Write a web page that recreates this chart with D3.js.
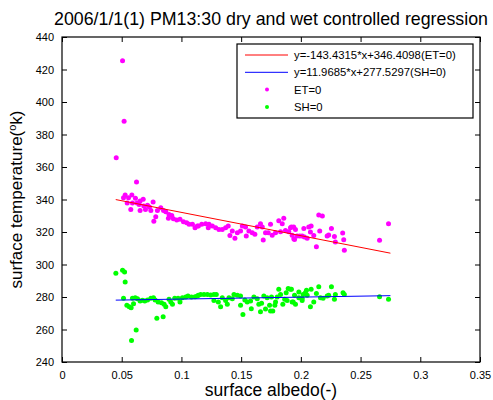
<!DOCTYPE html>
<html>
<head>
<meta charset="utf-8">
<script src="https://cdn.jsdelivr.net/npm/d3@7"></script>
<style>
  body { margin: 0; background: #fff; }
  svg { font-family: "Liberation Sans", Arial, sans-serif; }
</style>
</head>
<body>
<svg id="chart" width="493" height="400"></svg>
<script>
// chart text
var title = '2006/1/1(1) PM13:30 dry and wet controlled regression';
var xTicks = [0, 0.05, 0.1, 0.15, 0.2, 0.25, 0.3, 0.35];
var yTicks = [240, 260, 280, 300, 320, 340, 360, 380, 400, 420, 440];

// regression fits (slope, intercept) and the x span they are drawn over
var etFit = [-143.4315, 346.4098];
var shFit = [11.9685, 277.5297];
var fitSpan = [0.045, 0.275];

// ET=0 points (albedo, temperature)
var etPoints = [
  [0.0454, 365.7], [0.0507, 425.4], [0.0520, 388.1], [0.0624, 350.8],
  [0.0529, 342.8], [0.0515, 341.1], [0.0557, 341.1], [0.0585, 342.8],
  [0.0615, 340.7], [0.0546, 337.8], [0.0590, 337.8], [0.0576, 333.9],
  [0.0629, 337.8], [0.0654, 339.1], [0.0680, 340.1], [0.0646, 337.0],
  [0.0685, 336.0], [0.0716, 336.4], [0.0732, 335.4], [0.0763, 338.5],
  [0.0654, 333.3], [0.0699, 333.9], [0.0744, 333.3], [0.0785, 329.4],
  [0.0769, 326.6], [0.0799, 333.3], [0.0827, 335.0], [0.0850, 333.3],
  [0.0869, 332.5], [0.0896, 330.8], [0.0919, 330.2], [0.0891, 328.4],
  [0.0933, 328.2], [0.0961, 327.4], [0.0988, 327.8], [0.1017, 326.3],
  [0.1044, 325.7], [0.1064, 324.7], [0.1092, 324.7], [0.1114, 322.6],
  [0.1142, 323.7], [0.1133, 323.7], [0.1170, 324.7], [0.1203, 325.1],
  [0.1231, 324.7], [0.1225, 322.6], [0.1259, 323.7], [0.1287, 322.6],
  [0.1314, 321.6], [0.1342, 321.6], [0.1370, 322.6], [0.1392, 323.7],
  [0.1406, 317.9], [0.1426, 320.6], [0.1448, 316.1], [0.1468, 319.6],
  [0.1495, 320.6], [0.1510, 323.7], [0.1537, 323.1], [0.1543, 317.5],
  [0.1565, 320.6], [0.1593, 319.6], [0.1615, 318.6], [0.1635, 323.1],
  [0.1662, 325.1], [0.1677, 323.1], [0.1685, 315.1], [0.1704, 319.6],
  [0.1727, 319.6], [0.1746, 324.7], [0.1760, 318.0], [0.1788, 319.6],
  [0.1815, 327.0], [0.1844, 325.1], [0.1857, 328.4], [0.1830, 320.2],
  [0.1871, 321.0], [0.1899, 320.2], [0.1921, 323.1], [0.1941, 315.8],
  [0.1913, 322.6], [0.1940, 323.1], [0.1955, 321.6], [0.1927, 318.0],
  [0.1947, 315.4], [0.1969, 317.5], [0.1991, 317.5], [0.2011, 317.5],
  [0.2030, 316.9], [0.2053, 316.1], [0.2025, 322.2], [0.2066, 323.1],
  [0.2086, 323.7], [0.2080, 320.0], [0.2108, 317.9], [0.2150, 330.5],
  [0.2180, 329.9], [0.2158, 320.6], [0.2130, 311.0], [0.2220, 317.5],
  [0.2233, 318.1], [0.2256, 322.2], [0.2281, 317.3], [0.2289, 313.8],
  [0.2350, 319.4], [0.2359, 315.3], [0.2364, 308.7], [0.2659, 314.9],
  [0.2734, 325.1]
];

// SH=0 points (albedo, temperature)
var shPoints = [
  [0.0451, 294.6], [0.0507, 296.4], [0.0524, 295.4], [0.0529, 289.2],
  [0.0515, 279.2], [0.0543, 274.9], [0.0563, 274.0], [0.0579, 273.4],
  [0.0599, 275.9], [0.0590, 279.2], [0.0613, 279.6], [0.0632, 279.0],
  [0.0654, 277.5], [0.0674, 278.0], [0.0693, 277.5], [0.0716, 278.2],
  [0.0744, 279.2], [0.0766, 279.6], [0.0780, 278.2], [0.0805, 276.9],
  [0.0833, 276.5], [0.0855, 275.5], [0.0869, 274.0], [0.0896, 278.6],
  [0.0925, 275.5], [0.0911, 276.9], [0.0794, 266.9], [0.0847, 267.9],
  [0.0621, 259.7], [0.0582, 253.3], [0.0944, 279.2], [0.0972, 279.2],
  [0.0988, 276.9], [0.1008, 279.6], [0.1036, 280.0], [0.1055, 280.6],
  [0.1084, 280.0], [0.1114, 280.2], [0.1142, 281.1], [0.1133, 280.6],
  [0.1161, 281.6], [0.1189, 281.6], [0.1217, 281.6], [0.1245, 281.2],
  [0.1272, 281.6], [0.1292, 281.6], [0.1272, 277.9], [0.1309, 277.0],
  [0.1328, 274.0], [0.1342, 279.6], [0.1370, 277.9], [0.1384, 275.5],
  [0.1398, 279.6], [0.1426, 279.0], [0.1440, 281.6], [0.1468, 281.1],
  [0.1495, 280.6], [0.1495, 274.9], [0.1515, 269.3], [0.1531, 278.2],
  [0.1551, 276.9], [0.1579, 277.5], [0.1585, 272.8], [0.1607, 280.0],
  [0.1635, 279.0], [0.1648, 275.5], [0.1671, 276.1], [0.1662, 271.0],
  [0.1690, 280.6], [0.1704, 272.6], [0.1718, 279.6], [0.1738, 274.9],
  [0.1754, 280.0], [0.1746, 271.4], [0.1765, 271.4], [0.1782, 274.9],
  [0.1788, 277.0], [0.1802, 280.0], [0.1815, 284.7], [0.1830, 281.6],
  [0.1849, 275.5], [0.1865, 278.6], [0.1877, 282.6], [0.1894, 285.3],
  [0.1913, 284.7], [0.1927, 277.0], [0.1885, 277.9], [0.1921, 284.7],
  [0.1947, 281.1], [0.1936, 277.0], [0.1955, 275.5], [0.1983, 283.1],
  [0.1983, 279.6], [0.2011, 279.2], [0.2019, 281.6], [0.2038, 282.6],
  [0.2053, 281.1], [0.2047, 284.1], [0.2086, 284.7], [0.2011, 277.9],
  [0.2080, 274.0], [0.2108, 277.0], [0.2130, 282.2], [0.2150, 286.3],
  [0.2164, 279.6], [0.2186, 279.2], [0.2220, 280.6], [0.2233, 281.1],
  [0.2256, 286.3], [0.2281, 278.6], [0.2289, 281.6], [0.2353, 282.6],
  [0.2364, 281.6], [0.2659, 280.2], [0.2734, 278.6]
];

var legendItems = [
  {label: 'y=-143.4315*x+346.4098(ET=0)', kind: 'line', color: '#ff0000'},
  {label: 'y=11.9685*x+277.5297(SH=0)', kind: 'line', color: '#0000ff'},
  {label: 'ET=0', kind: 'dot', color: '#ff00ff'},
  {label: 'SH=0', kind: 'dot', color: '#00ff00'}
];

var svg = d3.select('#chart');
var margin = {left: 62, right: 13, top: 37, bottom: 38};
var width = 493 - margin.left - margin.right;
var height = 400 - margin.top - margin.bottom;

var x = d3.scaleLinear().domain([0, 0.35]).range([0, width]);
var y = d3.scaleLinear().domain([240, 440]).range([height, 0]);

var g = svg.append('g')
  .attr('transform', 'translate(' + margin.left + ',' + margin.top + ')');

// axes: ticks point inward, box on all four sides
function styleAxis(sel, showText) {
  sel.select('.domain').remove();
  sel.selectAll('line').attr('stroke', '#000');
  sel.selectAll('text')
    .attr('fill', '#000')
    .style('font-size', '11px')
    .style('display', showText ? null : 'none');
}
g.append('g')
  .attr('transform', 'translate(0,' + height + ')')
  .call(d3.axisBottom(x).tickValues(xTicks).tickSize(-5).tickPadding(9).tickFormat(d3.format('')))
  .call(styleAxis, true);
g.append('g')
  .call(d3.axisTop(x).tickValues(xTicks).tickSize(-5).tickFormat(''))
  .call(styleAxis, false);
g.append('g')
  .call(d3.axisLeft(y).tickValues(yTicks).tickSize(-5).tickPadding(8))
  .call(styleAxis, true);
g.append('g')
  .attr('transform', 'translate(' + width + ',0)')
  .call(d3.axisRight(y).tickValues(yTicks).tickSize(-5).tickFormat(''))
  .call(styleAxis, false);

g.append('rect')
  .attr('width', width)
  .attr('height', height)
  .attr('fill', 'none')
  .attr('stroke', '#000')
  .attr('stroke-width', 1.2);

// scatter
function dots(points, color) {
  g.append('g').selectAll('circle')
    .data(points)
    .enter().append('circle')
    .attr('cx', d => x(d[0]))
    .attr('cy', d => y(d[1]))
    .attr('r', 2.5)
    .attr('fill', color);
}
dots(etPoints, '#ff00ff');
dots(shPoints, '#00ff00');

// fitted lines
function fitLine(fit, color) {
  var line = d3.line().x(d => x(d)).y(d => y(fit[0] * d + fit[1]));
  g.append('path')
    .attr('d', line(fitSpan))
    .attr('fill', 'none')
    .attr('stroke', color)
    .attr('stroke-width', 1);
}
fitLine(etFit, '#ff0000');
fitLine(shFit, '#0000ff');

// legend
var legend = svg.append('g').attr('transform', 'translate(237,44)');
legend.append('rect')
  .attr('width', 236)
  .attr('height', 74)
  .attr('fill', '#fff')
  .attr('stroke', '#000')
  .attr('stroke-width', 1.2);
var rows = legend.selectAll('.row')
  .data(legendItems)
  .enter().append('g')
  .attr('class', 'row')
  .attr('transform', (d, i) => 'translate(0,' + (11 + i * 17.3) + ')');
rows.filter(d => d.kind === 'line').append('line')
  .attr('x1', 8).attr('x2', 51)
  .attr('stroke', d => d.color);
rows.filter(d => d.kind === 'dot').append('circle')
  .attr('cx', 30).attr('r', 2)
  .attr('fill', d => d.color);
rows.append('text')
  .attr('x', 57)
  .attr('dy', '0.35em')
  .style('font-size', '11.3px')
  .text(d => d.label);

// titles
svg.append('text')
  .attr('x', margin.left + width / 2)
  .attr('y', 25)
  .attr('text-anchor', 'middle')
  .style('font-size', '17.8px')
  .text(title);
svg.append('text')
  .attr('x', margin.left + width / 2)
  .attr('y', 396)
  .attr('text-anchor', 'middle')
  .style('font-size', '17.5px')
  .text('surface albedo(-)');
var yl = svg.append('text')
  .attr('transform', 'translate(22,' + (margin.top + height / 2) + ') rotate(-90)')
  .attr('text-anchor', 'middle')
  .style('font-size', '17px');
yl.append('tspan').text('surface temperature(');
yl.append('tspan').attr('dy', -6).style('font-size', '11px').text('o');
yl.append('tspan').attr('dy', 6).text('k)');
</script>
</body>
</html>
